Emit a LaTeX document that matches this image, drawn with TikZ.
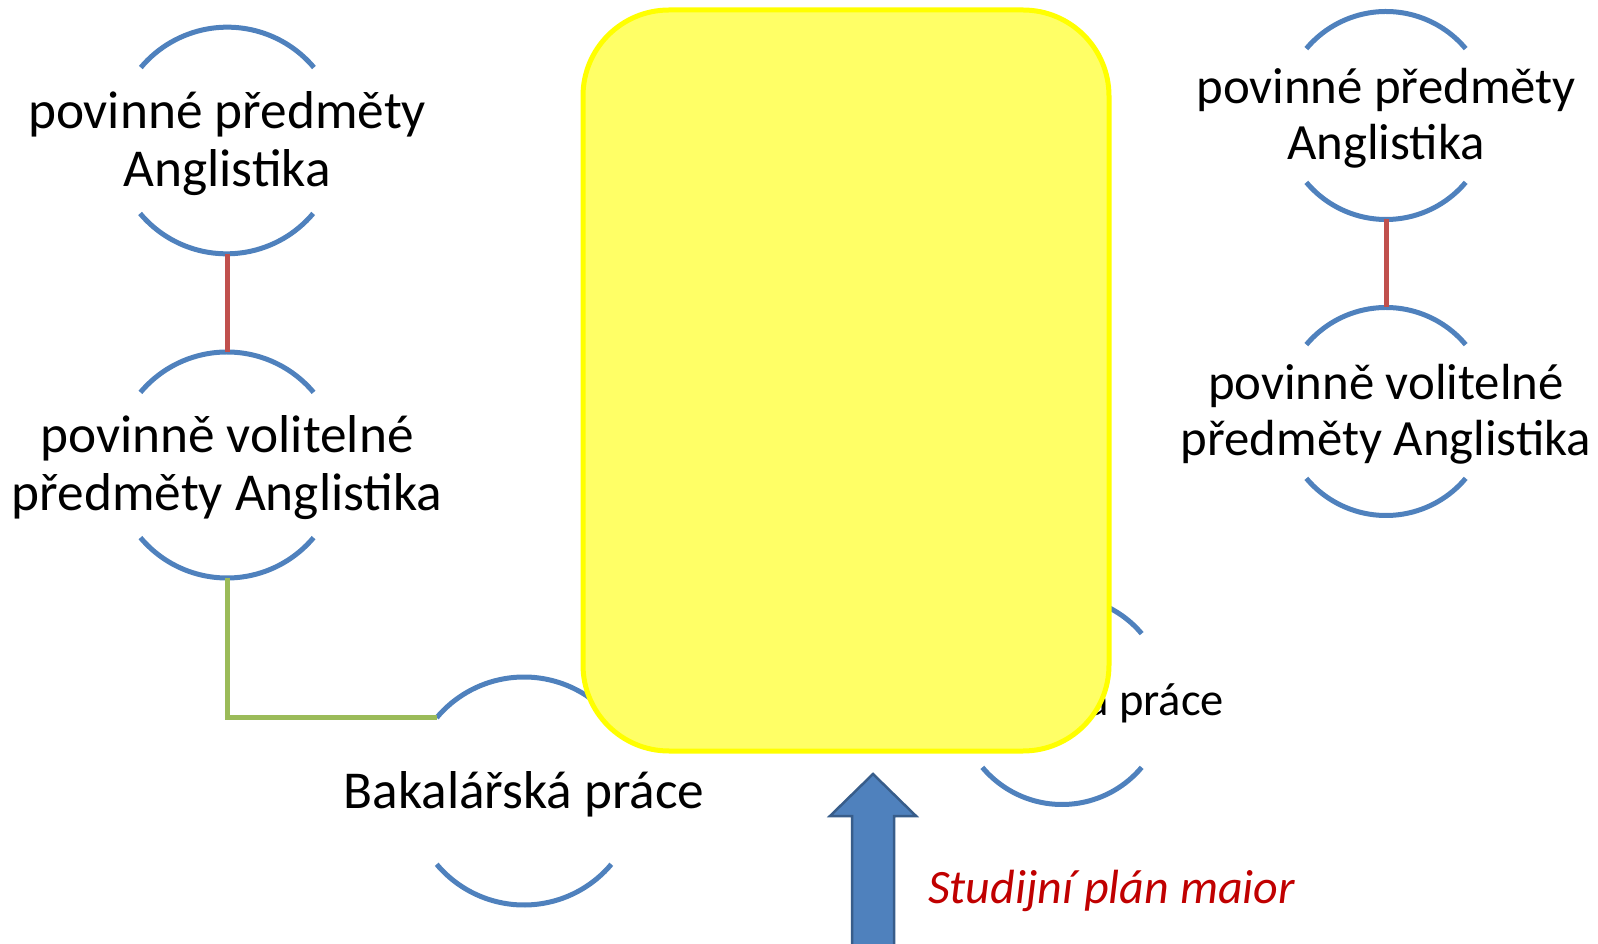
\documentclass[tikz,border=0pt]{standalone}
\usepackage{fontspec}
\setmainfont{Carlito}
\definecolor{arcblue}{HTML}{4F81BD}
\definecolor{linkred}{HTML}{C0504D}
\definecolor{linkgreen}{HTML}{9BBB59}
\definecolor{boxfill}{HTML}{FFFF66}
\definecolor{boxline}{HTML}{FFFF00}
\definecolor{arrowline}{HTML}{385D8A}
\definecolor{labelred}{HTML}{C00000}
\tikzset{
  ring/.style={circle, inner sep=0pt, outer sep=0pt, minimum size=#1},
  arcline/.style={draw=arcblue, line width=5pt},
  lbigtext/.style={font=\fontsize{53.3}{58}\selectfont, align=center, inner sep=0pt, yshift=-3pt},
  rbigtext/.style={font=\fontsize{50.8}{56}\selectfont, align=center, inner sep=0pt, yshift=-3pt},
  redlink/.style={draw=linkred, line width=5pt},
  greenlink/.style={draw=linkgreen, line width=5pt},
  majorbox/.style={draw=boxline, fill=boxfill, line width=5pt, rounded corners=86pt, inner sep=0pt},
  bigarrow/.style={fill=arcblue, draw=arrowline, line width=2.5pt, line join=miter},
}
\newcommand\ringarcs[2]{%
  \draw[arcline] (#1.40) arc[start angle=40,end angle=140,radius=#2];
  \draw[arcline] (#1.220) arc[start angle=220,end angle=320,radius=#2];
}
\begin{document}
\begin{tikzpicture}[x=1pt,y=1pt]
\useasboundingbox (0,0) rectangle (1598,943);
% rings
\node[ring=227pt] (c1) at (227,802.5) {};
\node[ring=226pt] (c2) at (227,478) {};
\node[ring=228pt] (c3) at (524,152) {};
\node[ring=208pt] (c4) at (1062,242.5) {};
\node[ring=208pt] (c5) at (1386,827.5) {};
\node[ring=208pt] (c6) at (1386,531.5) {};
\ringarcs{c1}{113pt}
\ringarcs{c2}{113pt}
\ringarcs{c3}{114pt}
\ringarcs{c4}{104pt}
\ringarcs{c5}{104pt}
\ringarcs{c6}{104pt}
% texts
\node[lbigtext] (t1) at (c1) {povinné předměty\\Anglistika};
\node[lbigtext] (t2) at (c2) {povinně volitelné\\předměty Anglistika};
\node[lbigtext] (t3) at (c3) {Bakalářská práce};
\node[font=\fontsize{46.5}{52}\selectfont, inner sep=0pt, anchor=base east] (t4) at (1224,228) {Bakalářská práce};
\node[rbigtext] (t5) at (c5) {povinné předměty\\Anglistika};
\node[rbigtext] (t6) at (c6) {povinně volitelné\\předměty Anglistika};
% connectors
\draw[redlink] (c1.south) -- (c2.north);
\draw[redlink] (c5.south) -- (c6.north);
\draw[greenlink] (c2.south) |- (c3.140);
% yellow box
\node[majorbox, minimum width=526pt, minimum height=741pt] (major) at (846,562.5) {};
% arrow
\draw[bigarrow] (852,-5) -- (852,127) -- (830,127) -- (873,169) -- (916,127) -- (894,127) -- (894,-5) -- cycle;
\node[font=\fontsize{48}{58}\selectfont\itshape, text=labelred, anchor=base west, inner sep=0pt] (plan) at (928,40) {Studijní plán maior};
\end{tikzpicture}
\end{document}
